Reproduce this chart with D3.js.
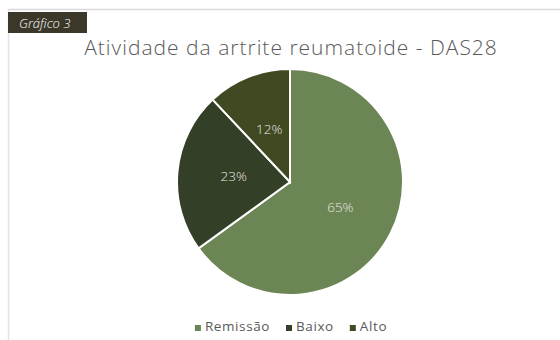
<!DOCTYPE html>
<html>
<head>
<meta charset="utf-8">
<script src="https://d3js.org/d3.v7.min.js"></script>
<style>
body, html {
    margin: 0;
    padding: 0;
    background: #fff;
    font-family: "Open Sans", "DejaVu Sans", sans-serif;
}
</style>
</head>
<body>
<div id="chart"></div>
<script>

var width = 560,
    height = 340;

// dados do gráfico
var categorias = ["Remissão", "Baixo", "Alto"];
var valores = [65, 23, 12];
var cores = ["#6c8554", "#333f26", "#3f4a23"];

var svg = d3.select('#chart').append('svg')
  .attr('width', width)
  .attr('height', height);

// moldura
svg.append('line')
  .attr('x1', 8).attr('x2', width)
  .attr('y1', 9.5).attr('y2', 9.5)
  .attr('stroke', '#d9d9d9').attr('stroke-width', 1.5);
svg.append('line')
  .attr('x1', 8.5).attr('x2', 8.5)
  .attr('y1', 9).attr('y2', height)
  .attr('stroke', '#e3e3e3').attr('stroke-width', 1.5);

// etiqueta "Gráfico 3"
svg.append('rect')
  .attr('x', 8).attr('y', 12)
  .attr('width', 79).attr('height', 21)
  .attr('fill', '#3b3729');
svg.append('text')
  .attr('x', 19).attr('y', 27.5)
  .attr('fill', '#ffffff')
  .attr('font-size', 13)
  .attr('font-style', 'italic')
  .attr('font-weight', 300)
  .text('Gráfico 3');

// título
svg.append('text')
  .attr('x', 291).attr('y', 55)
  .attr('text-anchor', 'middle')
  .attr('fill', '#595959')
  .attr('font-size', 21)
  .attr('font-weight', 300)
  .attr('letter-spacing', 1)
  .text('Atividade da artrite reumatoide - DAS28');

var cx = 290, cy = 182, r = 113;

var pie = d3.pie().sort(null).value(function(d) { return d; });
var arc = d3.arc().innerRadius(0).outerRadius(r);
var labelArc = d3.arc().innerRadius(r * 0.5).outerRadius(r * 0.5);

var g = svg.append('g').attr('transform', 'translate(' + cx + ',' + cy + ')');
var arcs = pie(valores);

g.selectAll('path.fatia')
  .data(arcs)
  .enter().append('path')
  .attr('class', 'fatia')
  .attr('d', arc)
  .attr('fill', function(d, i) { return cores[i]; })
  .attr('stroke', '#ffffff')
  .attr('stroke-width', 2);

g.selectAll('text.rotulo')
  .data(arcs)
  .enter().append('text')
  .attr('class', 'rotulo')
  .attr('transform', function(d) {
    var c = labelArc.centroid(d);
    return 'translate(' + c[0] + ',' + c[1] + ')';
  })
  .attr('dy', '0.35em')
  .attr('text-anchor', 'middle')
  .attr('fill', '#e8e8e0')
  .attr('font-size', 13.5)
  .attr('font-weight', 300)
  .text(function(d) { return d.data + '%'; });

// legenda
var legenda = svg.append('g');
var x = 0;
categorias.forEach(function(c, i) {
  var it = legenda.append('g').attr('transform', 'translate(' + x + ',0)');
  it.append('rect')
    .attr('x', 0).attr('y', -6)
    .attr('width', 6).attr('height', 6)
    .attr('fill', cores[i]);
  var t = it.append('text')
    .attr('x', 10).attr('y', 0)
    .attr('fill', '#595959')
    .attr('font-size', 13.5)
    .attr('letter-spacing', 0.6)
    .text(c);
  x += 10 + t.node().getComputedTextLength() + 16;
});
var lw = x - 16;
legenda.attr('transform', 'translate(' + (cx - lw / 2 + 1) + ',331)');

</script>
</body>
</html>
